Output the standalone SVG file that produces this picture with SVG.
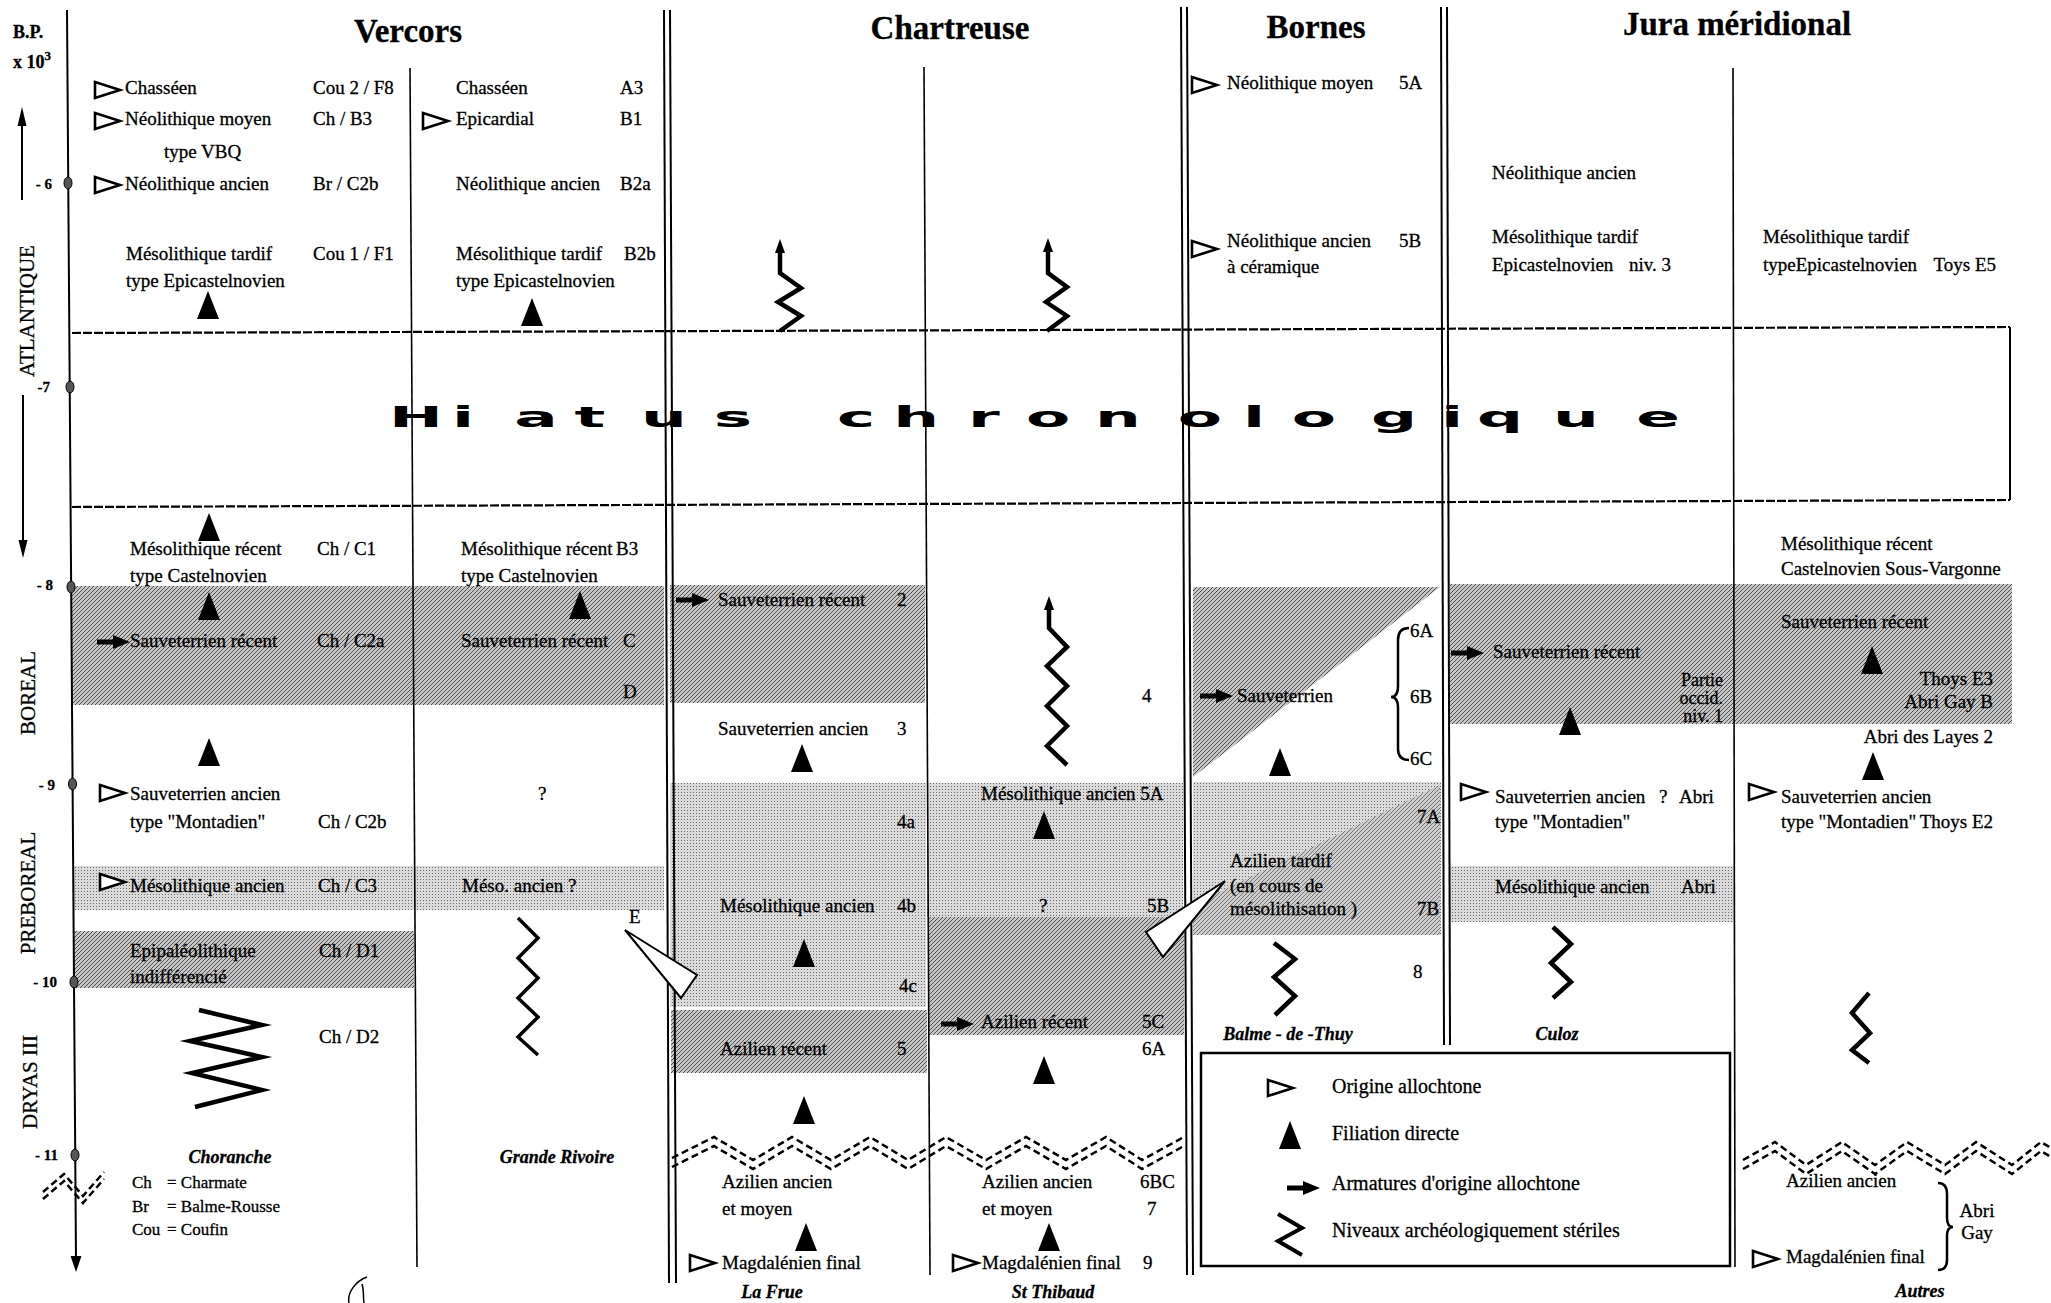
<svg xmlns="http://www.w3.org/2000/svg" width="2051" height="1303" viewBox="0 0 2051 1303">
<defs>
<style>
text { font-family: "Liberation Serif", "Times New Roman", serif; font-size: 19px; fill: #000; stroke: #000; stroke-width: 0.3; }
.hd { font-size: 33px; font-weight: bold; text-anchor: middle; }
.loc { font-size: 18px; font-weight: bold; font-style: italic; text-anchor: middle; }
.sm { font-size: 17px; }
.pt { font-size: 18px; text-anchor: end; }
.tk { font-size: 15px; font-weight: bold; text-anchor: end; }
.era { font-size: 21px; text-anchor: middle; }
.lg { font-size: 20px; }
.e { text-anchor: end; }
.m { text-anchor: middle; }
.vl { stroke: #000; stroke-width: 2; fill: none; }
.vt { stroke: #000; stroke-width: 1.6; fill: none; }
.hl { stroke: #000; stroke-width: 2.2; stroke-dasharray: 9 2; fill: none; }
.zz { fill: none; stroke: #000; stroke-width: 4.5; stroke-linejoin: miter; stroke-miterlimit: 10; }
.dz { fill: none; stroke: #000; stroke-width: 2.5; stroke-dasharray: 7 4; }
.hia { font-family: "DejaVu Sans", "Liberation Sans", sans-serif; font-weight: bold; font-size: 28px; text-anchor: middle; stroke-width: 0; }
.wedge { fill: #fff; stroke: #000; stroke-width: 2; stroke-linejoin: miter; }
</style>
<pattern id="hatch" width="4" height="4" patternUnits="userSpaceOnUse">
<rect width="4" height="4" fill="#c6c6c6"/>
<path d="M-1,1 L1,-1 M0,4 L4,0 M3,5 L5,3" stroke="#505050" stroke-width="1"/>
</pattern>
<pattern id="hatch2" width="4" height="4" patternUnits="userSpaceOnUse">
<rect width="4" height="4" fill="#cdcdcd"/>
<path d="M-1,1 L1,-1 M0,4 L4,0 M3,5 L5,3" stroke="#6a6a6a" stroke-width="0.9"/>
</pattern>
<pattern id="dots" width="3" height="3" patternUnits="userSpaceOnUse">
<rect width="3" height="3" fill="#dadada"/>
<rect width="1" height="1" fill="#6a6a6a"/>
</pattern>
<path id="ot" d="M0,-8 L25,0 L0,8 Z" fill="#fff" stroke="#000" stroke-width="2.6"/>
<path id="ft" d="M0,-14 L11,14 L-11,14 Z" fill="#000"/>
<path id="ar" d="M0,-2.5 H16 V-7 L33,0 L16,7 V2.5 H0 Z" fill="#000"/>
<marker id="ah" viewBox="0 0 14 10" refX="1" refY="5" markerWidth="14" markerHeight="10" markerUnits="userSpaceOnUse" orient="auto-start-reverse">
<path d="M0,0 L14,5 L0,10 Z" fill="#000"/>
</marker>
</defs>
<rect width="2051" height="1303" fill="#fff"/>

<g id="bands">
<rect x="73" y="866" width="591" height="44" fill="url(#dots)"/>
<rect x="670" y="783" width="256" height="224" fill="url(#dots)"/>
<rect x="927" y="783" width="256" height="134" fill="url(#dots)"/>
<rect x="1193" y="782" width="248" height="153" fill="url(#dots)"/>
<rect x="1449" y="866" width="285" height="56" fill="url(#dots)"/>
<rect x="72" y="586" width="592" height="119" fill="url(#hatch)"/>
<rect x="670" y="585" width="255" height="118" fill="url(#hatch)"/>
<polygon points="1193,587 1440,587 1193,777" fill="url(#hatch)"/>
<rect x="1450" y="584" width="562" height="140" fill="url(#hatch)"/>
<rect x="74" y="931" width="340" height="57" fill="url(#hatch)"/>
<rect x="671" y="1010" width="256" height="63" fill="url(#hatch)"/>
<rect x="929" y="917" width="255" height="118" fill="url(#hatch)"/>
<polygon points="1440,785 1440,935 1193,935 1193,905" fill="url(#hatch2)"/>
</g>

<g id="hiatus">
<text class="hia" transform="scale(2.3,1)" x="180.9 201.3 233 256.5 288.7 318.7 372.2 398.3 427.8 455.7 486.1 521.7 545.2 571.3 606.1 631.3 652.2 685.2 720.9" y="427">Hiatuschronologique</text>
</g>

<g id="grid">
<line class="vl" x1="67" y1="10" x2="76" y2="1260" stroke-width="2.2"/>
<path d="M70.5,1256 L81.5,1256 L76,1272 Z" fill="#000"/>
<line class="vt" x1="410" y1="68" x2="417" y2="1267"/>
<line class="vl" x1="664" y1="10" x2="669" y2="1283"/>
<line class="vl" x1="670" y1="10" x2="676" y2="1283"/>
<line class="vt" x1="924" y1="67" x2="930" y2="1275"/>
<line class="vl" x1="1181" y1="7" x2="1187" y2="1275"/>
<line class="vl" x1="1187" y1="7" x2="1193" y2="1275"/>
<line class="vl" x1="1441" y1="7" x2="1444" y2="1045"/>
<line class="vl" x1="1447" y1="7" x2="1450" y2="1045"/>
<line class="vt" x1="1733" y1="68" x2="1735" y2="1267"/>
<line class="hl" x1="72" y1="333" x2="2010" y2="327"/>
<line class="hl" x1="72" y1="507" x2="2010" y2="500"/>
<line class="vl" x1="2010" y1="327" x2="2010" y2="500"/>
<rect x="1201" y="1053" width="529" height="213" fill="none" stroke="#000" stroke-width="2.5"/>
<polyline class="dz" points="43,1192 64,1174 83,1196 104,1172"/>
<polyline class="dz" points="43,1199 64,1181 83,1203 104,1179"/>
<path d="M367,1277 C356,1281 347,1292 349,1303 M362,1284 C364,1290 363,1297 364,1303" fill="none" stroke="#000" stroke-width="1.5"/>
</g>

<g id="axis">
<text x="13" y="38" style="font-size:18px;font-weight:bold">B.P.</text>
<text x="13" y="68" style="font-size:18px;font-weight:bold">x 10<tspan dy="-8" style="font-size:13px">3</tspan></text>
<g fill="#555" stroke="#000" stroke-width="1">
<ellipse cx="68" cy="183" rx="4" ry="6"/>
<ellipse cx="70" cy="387" rx="4" ry="6"/>
<ellipse cx="71" cy="587" rx="4" ry="6"/>
<ellipse cx="72.5" cy="784" rx="4" ry="6"/>
<ellipse cx="74" cy="982" rx="4" ry="6"/>
<ellipse cx="75" cy="1155" rx="4" ry="6"/>
</g>
<text class="tk" x="52" y="189">- 6</text>
<text class="tk" x="50" y="392">-7</text>
<text class="tk" x="53" y="590">- 8</text>
<text class="tk" x="55" y="790">- 9</text>
<text class="tk" x="57" y="987">- 10</text>
<text class="tk" x="58" y="1160">- 11</text>
<text class="era" transform="translate(34,311) rotate(-90)">ATLANTIQUE</text>
<text class="era" transform="translate(35,693) rotate(-90)">BOREAL</text>
<text class="era" transform="translate(35,893) rotate(-90)">PREBOREAL</text>
<text class="era" transform="translate(37,1082) rotate(-90)">DRYAS III</text>
<line x1="22" y1="200" x2="22" y2="124" stroke="#000" stroke-width="2"/>
<path d="M17.5,126 L26.5,126 L22,107 Z" fill="#000"/>
<line x1="23" y1="395" x2="23" y2="542" stroke="#000" stroke-width="2"/>
<path d="M18.5,540 L27.5,540 L23,558 Z" fill="#000"/>
</g>

<g id="titles">
<text class="hd" x="408" y="42">Vercors</text>
<text class="hd" x="950" y="39">Chartreuse</text>
<text class="hd" x="1316" y="38">Bornes</text>
<text class="hd" x="1737" y="35">Jura méridional</text>
</g>

<g id="vercors-choranche">
<use href="#ot" x="95" y="90"/>
<text x="125" y="94">Chasséen</text>
<text x="313" y="94">Cou 2 / F8</text>
<use href="#ot" x="95" y="121"/>
<text x="125" y="125">Néolithique moyen</text>
<text x="313" y="125">Ch / B3</text>
<text x="164" y="158">type  VBQ</text>
<use href="#ot" x="95" y="185"/>
<text x="125" y="190">Néolithique ancien</text>
<text x="313" y="190">Br / C2b</text>
<text x="126" y="260">Mésolithique tardif</text>
<text x="313" y="260">Cou 1 / F1</text>
<text x="126" y="287">type Epicastelnovien</text>
<use href="#ft" x="208" y="305"/>
<use href="#ft" x="209" y="527"/>
<text x="130" y="555">Mésolithique récent</text>
<text x="317" y="555">Ch / C1</text>
<text x="130" y="582">type Castelnovien</text>
<use href="#ft" x="209" y="606"/>
<use href="#ar" x="97" y="642"/>
<text x="130" y="647">Sauveterrien récent</text>
<text x="317" y="647">Ch / C2a</text>
<use href="#ft" x="209" y="752"/>
<use href="#ot" x="100" y="793"/>
<text x="130" y="800">Sauveterrien ancien</text>
<text x="130" y="828">type "Montadien"</text>
<text x="318" y="828">Ch / C2b</text>
<use href="#ot" x="100" y="882"/>
<text x="130" y="892">Mésolithique ancien</text>
<text x="318" y="892">Ch / C3</text>
<text x="130" y="957">Epipaléolithique</text>
<text x="319" y="957">Ch / D1</text>
<text x="130" y="983">indifférencié</text>
<polyline class="zz" points="199,1010 262,1025 190,1041 262,1057 192,1073 262,1090 195,1107"/>
<text x="319" y="1043">Ch / D2</text>
<text class="loc" x="230" y="1163">Choranche</text>
<text class="sm" x="132" y="1188">Ch</text>
<text class="sm" x="167" y="1188">= Charmate</text>
<text class="sm" x="132" y="1212">Br</text>
<text class="sm" x="167" y="1212">= Balme-Rousse</text>
<text class="sm" x="132" y="1235">Cou</text>
<text class="sm" x="167" y="1235">= Coufin</text>
</g>

<g id="vercors-grande-rivoire">
<text x="456" y="94">Chasséen</text>
<text x="620" y="94">A3</text>
<use href="#ot" x="423" y="121"/>
<text x="456" y="125">Epicardial</text>
<text x="620" y="125">B1</text>
<text x="456" y="190">Néolithique ancien</text>
<text x="620" y="190">B2a</text>
<text x="456" y="260">Mésolithique tardif</text>
<text x="624" y="260">B2b</text>
<text x="456" y="287">type Epicastelnovien</text>
<use href="#ft" x="532" y="312"/>
<text x="461" y="555">Mésolithique récent</text>
<text x="616" y="555">B3</text>
<text x="461" y="582">type Castelnovien</text>
<use href="#ft" x="580" y="605"/>
<text x="461" y="647">Sauveterrien récent</text>
<text x="623" y="647">C</text>
<text x="623" y="698">D</text>
<text x="538" y="800">?</text>
<text x="462" y="892">Méso. ancien ?</text>
<text x="629" y="923">E</text>
<polyline class="zz" style="stroke-width:3.5" points="518,918 538,938 518,958 538,978 518,998 538,1017 518,1037 538,1055"/>
<text class="loc" x="557" y="1163">Grande Rivoire</text>
</g>

<g id="chartreuse-la-frue">
<polyline class="zz" marker-start="url(#ah)" points="780,252 780,273 801,288 778,302 801,316 780,331"/>
<use href="#ar" x="676" y="600"/>
<text x="718" y="606">Sauveterrien récent</text>
<text x="897" y="606">2</text>
<text x="718" y="735">Sauveterrien ancien</text>
<text x="897" y="735">3</text>
<use href="#ft" x="802" y="758"/>
<text x="897" y="828">4a</text>
<text x="720" y="912">Mésolithique ancien</text>
<text x="897" y="912">4b</text>
<use href="#ft" x="804" y="953"/>
<text x="899" y="992">4c</text>
<text x="720" y="1055">Azilien récent</text>
<text x="897" y="1055">5</text>
<use href="#ft" x="804" y="1110"/>
<text x="722" y="1188">Azilien ancien</text>
<text x="722" y="1215">et moyen</text>
<use href="#ft" x="806" y="1237"/>
<use href="#ot" x="690" y="1263"/>
<text x="722" y="1269">Magdalénien final</text>
<text class="loc" x="772" y="1298">La Frue</text>
</g>

<g id="chartreuse-st-thibaud">
<polyline class="zz" marker-start="url(#ah)" points="1048,251 1048,273 1067,287 1046,302 1067,316 1047,331"/>
<polyline class="zz" marker-start="url(#ah)" points="1049,609 1049,628 1067,647 1047,666 1067,686 1047,706 1067,726 1047,746 1067,765"/>
<text x="1142" y="702">4</text>
<text x="981" y="800">Mésolithique ancien 5A</text>
<use href="#ft" x="1044" y="825"/>
<text x="1039" y="912">?</text>
<text x="1147" y="912">5B</text>
<use href="#ar" x="941" y="1024"/>
<text x="981" y="1028">Azilien récent</text>
<text x="1142" y="1028">5C</text>
<text x="1142" y="1055">6A</text>
<use href="#ft" x="1044" y="1070"/>
<text x="982" y="1188">Azilien ancien</text>
<text x="1140" y="1188">6BC</text>
<text x="982" y="1215">et moyen</text>
<text x="1147" y="1215">7</text>
<use href="#ft" x="1049" y="1237"/>
<use href="#ot" x="953" y="1263"/>
<text x="982" y="1269">Magdalénien final</text>
<text x="1143" y="1269">9</text>
<text class="loc" x="1053" y="1298">St Thibaud</text>
</g>

<g id="chartreuse-breaks">
<polyline class="dz" points="672,1158 714,1137 753,1160 792,1137 831,1160 870,1137 908,1160 946,1137 986,1160 1026,1137 1066,1160 1106,1137 1142,1160 1182,1138"/>
<polyline class="dz" points="672,1167 714,1146 753,1169 792,1146 831,1169 870,1146 908,1169 946,1146 986,1169 1026,1146 1066,1169 1106,1146 1142,1169 1182,1147"/>
</g>

<g id="bornes-balme-de-thuy">
<use href="#ot" x="1192" y="85"/>
<text x="1227" y="89">Néolithique moyen</text>
<text x="1399" y="89">5A</text>
<use href="#ot" x="1192" y="249"/>
<text x="1227" y="247">Néolithique ancien</text>
<text x="1227" y="273">à céramique</text>
<text x="1399" y="247">5B</text>
<text x="1410" y="637">6A</text>
<path d="M1409,628 Q1398,628 1398,640 L1398,686 Q1398,697 1391,697 Q1398,697 1398,708 L1398,749 Q1398,760 1409,760" fill="none" stroke="#000" stroke-width="2.5"/>
<text x="1410" y="703">6B</text>
<text x="1410" y="765">6C</text>
<use href="#ar" x="1200" y="696"/>
<text x="1237" y="702">Sauveterrien</text>
<use href="#ft" x="1280" y="762"/>
<text x="1417" y="823">7A</text>
<text x="1230" y="867">Azilien tardif</text>
<text x="1230" y="892">(en cours de</text>
<text x="1230" y="915">mésolithisation )</text>
<text x="1417" y="915">7B</text>
<polyline class="zz" points="1274,943 1295,959 1274,977 1295,996 1275,1015"/>
<text x="1413" y="978">8</text>
<text class="loc" x="1288" y="1040">Balme - de -Thuy</text>
</g>

<g id="jura-culoz">
<text x="1492" y="179">Néolithique ancien</text>
<text x="1492" y="243">Mésolithique tardif</text>
<text x="1492" y="271">Epicastelnovien</text>
<text x="1629" y="271">niv. 3</text>
<use href="#ar" x="1451" y="653" fill="#444"/>
<text x="1493" y="658">Sauveterrien récent</text>
<text class="pt" x="1723" y="686">Partie</text>
<text class="pt" x="1723" y="704">occid.</text>
<text class="pt" x="1723" y="722">niv. 1</text>
<use href="#ft" x="1570" y="721"/>
<use href="#ot" x="1461" y="792"/>
<text x="1495" y="803">Sauveterrien ancien</text>
<text x="1659" y="803">?</text>
<text x="1679" y="803">Abri</text>
<text x="1495" y="828">type "Montadien"</text>
<text x="1495" y="893">Mésolithique ancien</text>
<text x="1681" y="893">Abri</text>
<polyline class="zz" points="1553,927 1571,944 1551,963 1571,982 1553,998"/>
<text class="loc" x="1557" y="1040">Culoz</text>
</g>

<g id="jura-autres">
<text x="1763" y="243">Mésolithique tardif</text>
<text x="1763" y="271">typeEpicastelnovien</text>
<text class="e" x="1996" y="271">Toys E5</text>
<text x="1781" y="550">Mésolithique récent</text>
<text x="1781" y="575">Castelnovien Sous-Vargonne</text>
<text x="1781" y="628">Sauveterrien récent</text>
<use href="#ft" x="1872" y="660"/>
<text class="e" x="1993" y="685">Thoys  E3</text>
<text class="e" x="1993" y="708">Abri Gay B</text>
<text class="e" x="1993" y="743">Abri des Layes 2</text>
<use href="#ft" x="1873" y="766"/>
<use href="#ot" x="1749" y="792"/>
<text x="1781" y="803">Sauveterrien ancien</text>
<text x="1781" y="828">type "Montadien"</text>
<text class="e" x="1993" y="828">Thoys E2</text>
<polyline class="zz" points="1869,993 1852,1013 1870,1033 1852,1050 1869,1063"/>
<polyline class="dz" points="1743,1160 1775,1142 1806,1165 1842,1142 1875,1165 1907,1142 1945,1165 1976,1142 2012,1165 2041,1142 2051,1148"/>
<polyline class="dz" points="1743,1169 1775,1151 1806,1174 1842,1151 1875,1174 1907,1151 1945,1174 1976,1151 2012,1174 2041,1151 2051,1157"/>
<text x="1786" y="1187">Azilien ancien</text>
<path d="M1938,1183 Q1947,1183 1947,1194 L1947,1218 Q1947,1227 1953,1227 Q1947,1227 1947,1236 L1947,1260 Q1947,1270 1938,1270" fill="none" stroke="#000" stroke-width="2.5"/>
<text class="m" x="1977" y="1217">Abri</text>
<text class="m" x="1977" y="1239">Gay</text>
<use href="#ot" x="1753" y="1259"/>
<text x="1786" y="1263">Magdalénien final</text>
<text class="loc" x="1920" y="1297">Autres</text>
</g>

<g id="connectors">
<polygon class="wedge" points="625,930 697,975 681,998"/>
<polygon class="wedge" points="1225,881 1146,932 1163,957"/>
</g>

<g id="legend">
<use href="#ot" x="1268" y="1088"/>
<text class="lg" x="1332" y="1093">Origine allochtone</text>
<use href="#ft" x="1290" y="1135"/>
<text class="lg" x="1332" y="1140">Filiation directe</text>
<use href="#ar" x="1287" y="1188"/>
<text class="lg" x="1332" y="1190">Armatures d'origine allochtone</text>
<polyline class="zz" style="stroke-width:4" points="1278,1214 1302,1228 1278,1241 1302,1255"/>
<text class="lg" x="1332" y="1237">Niveaux archéologiquement stériles</text>
</g>
</svg>
